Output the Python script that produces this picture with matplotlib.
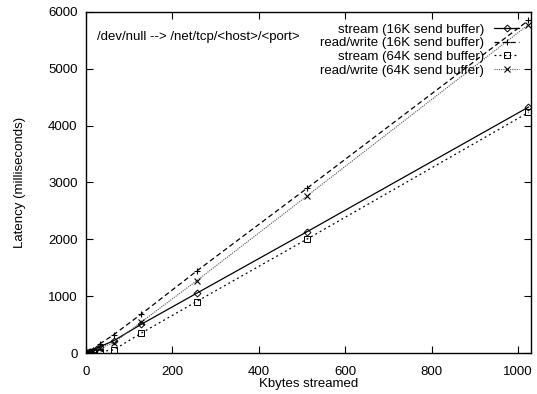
import matplotlib
matplotlib.use('Agg')
import matplotlib.pyplot as plt

plt.rcParams['font.family'] = ['Liberation Sans', 'DejaVu Sans']

# Kbytes streamed
kbytes = [1, 2, 4, 8, 16, 32, 64, 128, 256, 512, 1024]

# latency in milliseconds
stream_16k = [2, 3, 5, 10, 40, 110, 215, 505, 1050, 2135, 4325]
rw_16k = [2, 4, 8, 16, 50, 160, 320, 685, 1440, 2900, 5850]
stream_64k = [1, 2, 3, 5, 10, 25, 55, 350, 905, 2005, 4230]
rw_64k = [2, 3, 6, 12, 35, 90, 175, 545, 1270, 2765, 5775]

labels = ['stream (16K send buffer)', 'read/write (16K send buffer)',
          'stream (64K send buffer)', 'read/write (64K send buffer)']

fs = 9.5

fig = plt.figure(figsize=(5.37, 3.94), dpi=100)
ax = fig.add_axes([0.160, 0.104, 0.829, 0.866])

ax.plot(kbytes, stream_16k, color='black', lw=0.9, ls='-',
        marker='D', ms=3.5, mfc='none', mew=0.7, label=labels[0])
ax.plot(kbytes, rw_16k, color='black', lw=0.9, ls=(0, (4, 2.5)),
        marker='+', ms=5, mew=0.8, label=labels[1])
ax.plot(kbytes, stream_64k, color='black', lw=0.9, ls=(0, (1.5, 2.5)),
        marker='s', ms=4, mfc='none', mew=0.7, label=labels[2])
ax.plot(kbytes, rw_64k, color='#555555', lw=0.8, ls=(0, (1, 1)),
        marker='x', ms=4, mew=0.8, mec='black', label=labels[3])

ax.set_xlim(0, 1030)
ax.set_ylim(0, 6000)
ax.set_xticks([0, 200, 400, 600, 800, 1000])
ax.set_yticks([0, 1000, 2000, 3000, 4000, 5000, 6000])
ax.tick_params(direction='in', top=True, right=True, labelsize=fs, length=5, width=0.8)
ax.tick_params(axis='x', pad=9.5)
ax.tick_params(axis='y', pad=6)
for s in ax.spines.values():
    s.set_linewidth(1.0)

ax.set_xlabel('Kbytes streamed', fontsize=fs, labelpad=0)
ax.set_ylabel('Latency (milliseconds)', fontsize=fs, labelpad=16)

ax.text(0.025, 0.925, '/dev/null --> /net/tcp/<host>/<port>', transform=ax.transAxes,
        fontsize=fs, ha='left', va='center')

leg = ax.legend(loc='upper right', frameon=False, markerfirst=False, fontsize=fs,
                handlelength=1.9, handletextpad=0.75, labelspacing=0.1,
                borderaxespad=0.5, bbox_to_anchor=(1.0, 1.0))
for t in leg.get_texts():
    t.set_ha('right')

fig.savefig('out.png', dpi=100)
